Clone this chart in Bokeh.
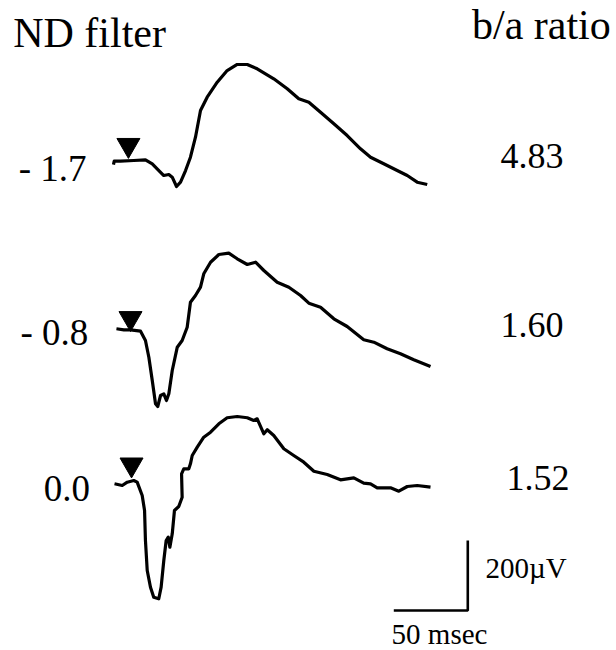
from bokeh.plotting import figure
from bokeh.models import Range1d, Label
from bokeh.embed import file_html
from bokeh.resources import INLINE

# ---- data (time in ms from stimulus, amplitude in microvolts relative to baseline) ----
nd_labels = ["- 1.7", "- 0.8", "0.0"]
ratio_labels = ["4.83", "1.60", "1.52"]

t1 = [-11.5, -11.0, -6.8, 2.2, 10.1, 14.7, 18.0, 22.5, 25.9, 28.2, 31.1, 33.8, 37.2, 40.5, 43.9,
      47.3, 51.8, 58.6, 65.3, 72.1, 78.9, 85.6, 96.8, 105.9, 113.7, 120.5, 128.4, 137.4, 146.4,
      155.4, 162.2, 171.1, 180.2, 187.0, 193.7, 200.5]
v1 = [-12, -2, -2, 0, 2, -9.4, -23.7, -42.9, -40, -47.7, -74.3, -62, -28.6, 9.4, 66.6,
      142.9, 180.9, 223.7, 257.1, 274.3, 274.3, 262, 233.4, 204.9, 176.3, 166.6, 138, 104.9, 71.4,
      33.4, 9.4, -9.4, -28.6, -42.9, -62, -68.6]

t2 = [-9.5, -4.5, 0, 6.8, 10.1, 12.4, 14.7, 16.9, 18.4, 20.3, 22.5, 24.3, 25.9, 28.2, 31.6, 34.9,
      38.3, 40.5, 43.9, 47.3, 49.5, 54.1, 59.7, 66.4, 72.1, 78.9, 84.5, 90.1, 99.1, 107.0, 114.9,
      120.5, 128.4, 137.4, 146.4, 157.6, 164.4, 173.4, 182.4, 191.4, 202.7]
v2 = [2.9, 0, 0, -4, -30.6, -78.3, -144.9, -211.4, -219.1, -187.7, -182.9, -202, -182.9, -116.3,
      -49.7, -30.6, 7.4, 78.9, 98, 121.7, 160, 193.1, 215.1, 218.9, 202.9, 186.6, 193.1, 169.4, 136,
      121.7, 98, 76, 64.6, 31.4, 9.4, -28.6, -35.4, -54.3, -68.6, -85.7, -104.9]

t3 = [-10.8, -5.6, -2.2, 2.2, 4.5, 7.9, 9.5, 10.1, 11.3, 13.5, 15.7, 19.1, 20.7, 22.5, 24.1, 25.5,
      26.6, 28.2, 29.7, 32.6, 34.9, 34.5, 36.0, 39.4, 40.5, 41.7, 45.1, 49.5, 54.1, 59.7, 65.3, 72.1,
      78.9, 83.3, 85.6, 90.1, 92.4, 96.8, 103.6, 110.3, 117.1, 123.9, 132.9, 141.9, 150.9, 157.6,
      162.2, 166.7, 175.7, 181.3, 187.0, 193.7, 202.7]
v3 = [-1.7, -6.6, 2.9, 7.7, 2.9, -35.1, -78, -163.7, -249.4, -297.1, -325.7, -330.3, -297.1, -220.9,
      -163.7, -154.3, -182.9, -144.6, -78, -66.6, -40, 26.9, 41.1, 41.1, 55.4, 79.1, 102.9, 131.4,
      145.7, 169.7, 186.9, 190.6, 186.9, 179.1, 184, 141.1, 152.6, 136.3, 98.3, 79.1, 60, 34.3, 24.9,
      9.7, 15.4, 0, -1.7, -13.1, -13.1, -22.9, -9.4, -6.6, -11.4]

stim_t = [-1.4, 0.0, 0.7]
stim_v = [44, 33, 53]

scale_ms = 50
scale_uv = 200

# ---- layout (vertical offsets of each trace, in microvolts) ----
offsets = [1400.0, 916.3, 478.0]
scale_corner = (227.9, 114.3)

p = figure(width=616, height=650, x_range=Range1d(-87.84, 328.38), y_range=Range1d(0, 1857.14),
           output_backend="svg", toolbar_location=None, min_border=0,
           x_axis_type=None, y_axis_type=None)
p.grid.visible = False
p.outline_line_color = None
p.background_fill_color = "white"
p.border_fill_color = "white"

for (tt, vv), off in zip([(t1, v1), (t2, v2), (t3, v3)], offsets):
    p.line(tt, [v + off for v in vv], line_color="black", line_width=3.2, line_join="round")

p.scatter(stim_t, [v + o for v, o in zip(stim_v, offsets)],
          marker="inverted_triangle", size=23, fill_color="black", line_color="black")

cx, cy = scale_corner
p.line([cx - scale_ms, cx, cx], [cy, cy, cy + scale_uv], line_color="black", line_width=2.6)

FONT = "Liberation Serif"

def lab(text, x, y, size, align="left"):
    p.add_layout(Label(x=x, y=y, x_units="screen", y_units="screen", text=text,
                       text_font=FONT, text_font_size=f"{size}px", text_color="black",
                       text_align=align, text_baseline="alphabetic"))

lab("ND filter", 12.7, 618, 42)
lab("b/a ratio", 471.5, 625.7, 42)

for txt, x, y in zip(nd_labels, [18.3, 20.0, 43.3], [482.3, 318.3, 162.3]):
    lab(txt, x, y, 37)
for txt, x, y in zip(ratio_labels, [500, 500, 506], [494.7, 326, 173]):
    lab(txt, x, y, 36)

lab("200\u00b5V", 485, 82.4, 29)
lab("50 msec", 439, 17, 29, align="center")

open("out.html", "w").write(file_html(p, INLINE))
